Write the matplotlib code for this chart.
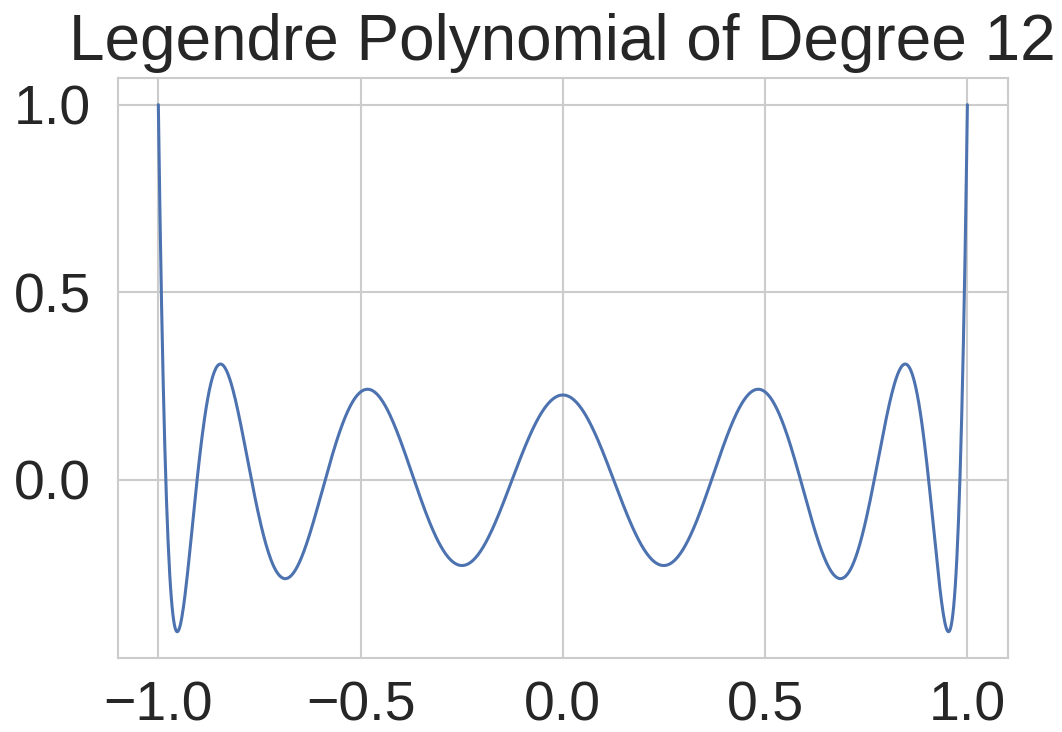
import numpy as np
import matplotlib
matplotlib.use("Agg")
import matplotlib.pyplot as plt
import seaborn as sns
from numpy.polynomial import legendre

# Legendre series coefficients: only the degree-12 term is set
degree = 12
coefs = [0] * degree + [1]
x_start, x_stop, n_points = -1.0, 1.0, 1000

sns.set_style("whitegrid")
plt.rcParams['font.family'] = ['Liberation Sans', 'DejaVu Sans']

x = np.linspace(x_start, x_stop, n_points)
y = legendre.legval(x, coefs)

fig = plt.figure(figsize=(10.62, 7.32), dpi=100)
ax = fig.add_axes([0.111, 0.101, 0.838, 0.792])
ax.plot(x, y, color="#4c72b0", linewidth=2.2)
ax.set_title("Legendre Polynomial of Degree %d" % degree, fontsize=46, color=".15", pad=13)
ax.tick_params(axis="x", labelsize=40, colors=".15", pad=13)
ax.tick_params(axis="y", labelsize=40, colors=".15", pad=16)
for s in ax.spines.values():
    s.set_linewidth(1.5)
    s.set_color(".8")
ax.grid(linewidth=1.5, color=".8")
ax.set_xticks([-1.0, -0.5, 0.0, 0.5, 1.0])
ax.set_yticks([0.0, 0.5, 1.0])

fig.savefig("out.png", dpi=100)
